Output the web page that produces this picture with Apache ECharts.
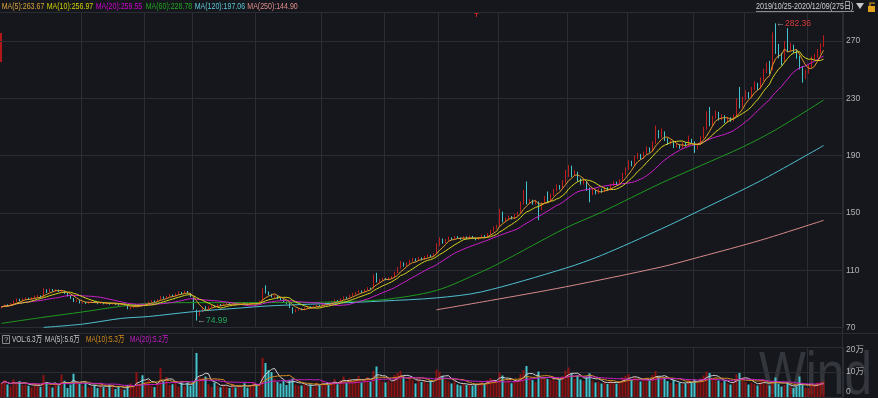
<!DOCTYPE html>
<html><head><meta charset="utf-8">
<script src="https://cdn.jsdelivr.net/npm/echarts@6/dist/echarts.min.js"></script>
<style>html,body{margin:0;padding:0;background:#15171c;}#c{width:878px;height:398px;}</style>
</head><body><div id="c"></div>
<script>
// [open, close, lowest, highest]
const candles = [
[83.9,84.5,83.5,85.0],[84.6,85.6,84.3,86.1],[85.7,85.2,84.7,86.3],[85.3,86.8,85.0,87.2],[86.6,88.4,86.2,89.0],
[88.3,89.6,87.9,90.4],[89.7,89.0,88.4,90.2],[89.1,89.8,88.7,90.5],[89.9,90.4,89.3,91.1],[90.5,89.9,89.4,90.9],
[89.8,90.8,89.5,91.3],[90.7,91.6,90.3,92.4],[91.5,92.0,91.0,92.8],[92.1,91.4,90.9,92.5],[91.5,95.8,91.2,97.6],
[95.9,95.0,94.2,96.8],[95.1,96.6,94.8,97.3],[96.7,95.8,95.2,97.0],[95.7,96.2,95.1,96.9],[96.3,95.4,94.9,96.6],
[95.3,95.9,94.8,96.4],[95.7,94.0,93.6,95.9],[93.9,92.2,91.8,94.2],[92.3,90.6,90.1,92.6],[90.5,88.5,87.9,90.8],
[88.4,89.0,87.8,89.6],[89.1,87.3,86.9,89.3],[87.2,87.6,86.8,88.1],[87.7,86.9,86.5,88.0],[86.9,87.8,86.6,88.2],
[87.7,88.3,87.4,88.8],[88.4,87.5,87.2,88.6],[87.4,86.8,86.4,87.7],[86.8,87.4,86.5,87.8],[87.5,86.6,86.3,87.6],
[86.6,87.2,86.3,87.6],[87.3,86.4,86.0,87.5],[86.4,87.0,86.1,87.4],[87.1,86.2,85.8,87.2],[86.2,85.8,85.4,86.6],
[85.8,86.5,85.5,86.9],[86.5,85.4,85.1,86.7],[85.3,83.4,82.9,85.5],[83.2,84.0,82.6,84.5],[83.9,84.8,83.6,85.2],
[84.7,85.6,84.3,86.2],[85.6,86.3,85.2,86.8],[86.4,86.0,85.6,86.9],[86.0,87.1,85.8,87.5],[87.2,87.8,86.9,88.3],
[87.9,88.6,87.5,89.2],[88.7,88.1,87.7,89.0],[88.1,89.5,87.9,90.0],[89.4,91.4,89.2,92.2],[91.5,90.6,90.2,91.8],
[90.7,91.8,90.4,92.3],[91.9,92.7,91.5,93.4],[92.8,92.0,91.6,93.1],[92.1,93.5,91.8,94.0],[93.6,94.6,93.2,95.4],
[94.7,93.8,93.4,95.0],[93.9,95.2,93.6,95.9],[95.3,94.1,93.7,95.6],[94.0,91.8,91.4,94.3],[90.5,83.0,82.6,91.0],
[82.0,79.5,74.99,82.6],[79.6,81.6,78.2,82.3],[81.5,83.8,80.9,84.5],[83.9,83.2,82.5,85.0],[83.1,84.6,82.8,85.1],
[84.7,85.3,84.2,85.9],[85.4,84.8,84.3,85.7],[84.8,86.1,84.5,86.6],[86.2,85.6,85.2,86.5],[85.6,86.4,85.3,86.9],
[86.5,87.0,86.1,87.5],[87.0,86.2,85.9,87.2],[86.2,86.8,85.9,87.2],[86.9,85.9,85.5,87.0],[85.9,86.5,85.6,86.9],
[86.6,87.2,86.2,87.6],[87.2,86.6,86.2,87.5],[86.6,85.9,85.5,86.8],[85.9,86.7,85.6,87.1],[86.8,87.4,86.4,87.9],
[87.5,87.0,86.6,87.8],[87.0,88.4,86.8,88.9],[88.5,96.8,88.2,97.5],[97.2,94.5,93.9,99.6],[94.4,93.2,92.6,95.3],
[93.1,91.6,91.1,93.6],[91.5,92.3,91.0,93.0],[92.3,90.4,90.0,92.6],[90.4,89.6,89.1,90.9],[89.6,88.1,87.6,89.9],
[88.0,87.0,86.5,88.3],[87.0,84.2,83.6,87.2],[84.0,81.5,79.8,84.3],[81.4,82.3,80.8,82.8],[82.3,83.1,81.9,83.6],
[83.2,82.6,82.1,83.5],[82.6,83.8,82.3,84.2],[83.8,84.5,83.4,85.0],[84.5,84.0,83.6,84.9],[84.0,84.9,83.7,85.3],
[84.9,85.6,84.6,86.1],[85.6,85.2,84.8,86.0],[85.2,86.4,85.0,86.9],[86.4,87.1,86.1,87.7],[87.2,86.7,86.3,87.5],
[86.7,88.0,86.5,88.6],[88.0,88.9,87.7,89.6],[89.0,88.4,88.0,89.3],[88.4,89.8,88.2,90.4],[89.8,91.0,89.5,91.8],
[91.1,90.6,90.1,91.6],[90.6,92.4,90.4,93.0],[92.4,93.5,92.0,94.2],[93.5,94.3,93.0,95.0],[94.3,95.4,93.9,96.2],
[95.5,94.9,94.3,96.0],[94.9,96.2,94.6,96.9],[96.2,97.5,95.9,98.3],[97.6,97.0,96.5,98.0],[97.2,106.5,97.0,107.2],
[106.8,102.0,101.5,108.3],[102.0,103.2,101.4,104.0],[103.2,104.1,102.7,104.9],[104.2,103.5,103.0,104.6],[103.5,104.6,103.2,105.2],
[104.6,105.3,104.1,106.0],[105.4,108.2,105.1,109.0],[108.3,111.5,108.0,112.4],[111.6,115.0,111.2,116.5],[115.1,113.2,112.6,115.6],
[113.2,114.6,112.8,115.4],[114.6,116.5,114.2,117.3],[116.6,117.8,116.1,118.7],[117.8,116.9,116.3,118.3],[116.9,118.6,116.6,119.4],
[118.7,117.5,117.0,119.0],[117.5,119.3,117.2,120.0],[119.3,120.4,118.9,121.2],[120.5,119.8,119.2,120.9],[119.8,121.2,119.5,121.9],
[121.5,127.0,121.2,129.0],[127.2,131.5,126.8,133.0],[131.6,129.3,128.6,132.2],[129.3,131.0,128.9,131.8],[131.0,132.4,130.6,133.5],
[132.5,131.8,131.2,133.0],[131.8,133.2,131.5,134.0],[133.3,132.6,132.0,133.9],[132.6,131.9,131.3,133.0],[131.9,133.0,131.6,133.8],
[133.1,132.2,131.7,133.6],[132.2,133.5,131.9,134.3],[133.6,132.4,131.9,134.0],[132.4,131.6,131.0,132.8],[131.6,132.8,131.3,133.4],
[132.8,134.1,132.5,134.9],[134.2,133.3,132.8,134.6],[133.3,135.2,133.0,136.0],[135.2,137.4,134.9,138.3],[137.4,139.5,137.0,140.6],
[139.6,140.6,139.0,141.8],[141.0,150.0,140.5,153.0],[149.5,144.5,143.5,151.0],[144.5,145.6,143.8,146.8],[145.6,147.2,145.0,148.3],
[147.3,146.1,145.5,147.9],[146.1,148.4,145.8,149.3],[148.5,149.6,147.9,150.8],[149.8,156.0,149.4,158.0],[156.2,163.0,155.8,166.0],
[166.0,157.0,156.0,172.0],[157.0,158.4,156.2,159.8],[158.4,156.5,155.8,159.3],[156.5,158.0,155.9,159.2],[157.0,152.0,145.0,158.0],
[152.5,156.8,152.0,157.6],[157.0,160.5,156.5,161.8],[163.0,158.5,157.0,165.0],[158.6,162.5,158.0,163.5],[162.6,165.8,162.0,167.0],
[165.8,168.4,165.2,170.0],[168.4,167.2,166.3,169.5],[167.4,171.5,167.0,173.0],[171.6,175.6,171.0,180.0],[175.8,179.8,175.2,183.5],
[181.0,176.5,175.0,183.0],[176.5,178.2,175.8,180.0],[178.0,173.0,172.2,178.8],[173.0,170.6,169.8,174.2],[170.6,172.0,169.9,173.5],
[171.8,166.3,165.5,172.3],[167.0,163.0,157.5,167.8],[163.2,165.5,162.5,166.8],[165.4,163.8,163.0,166.2],[163.8,166.2,163.2,167.2],
[166.2,164.9,164.2,167.0],[164.9,167.4,164.5,168.4],[167.4,166.2,165.5,168.0],[166.2,169.5,165.8,170.4],[169.5,171.0,168.8,172.2],
[171.0,170.1,169.3,171.9],[170.2,172.6,169.8,173.6],[172.8,176.8,172.4,178.0],[176.9,180.5,176.3,181.8],[180.6,185.2,180.0,186.8],
[185.3,183.6,182.6,186.5],[183.6,188.5,183.0,189.8],[188.6,190.4,187.6,192.0],[190.4,188.2,187.2,191.2],[188.2,191.5,187.8,192.8],
[191.6,194.8,191.0,196.4],[194.8,193.2,192.2,195.8],[193.3,198.6,192.8,200.0],[198.8,205.5,198.2,211.0],[205.6,203.2,202.0,207.8],
[203.2,206.4,202.5,209.0],[206.0,201.0,200.2,207.0],[201.0,198.5,197.6,202.2],[198.5,199.8,197.8,201.0],[199.8,196.2,195.3,200.4],
[196.2,197.5,195.6,198.6],[197.5,195.6,194.8,198.0],[195.6,198.4,195.0,199.4],[198.4,197.2,196.4,199.2],[197.3,200.8,196.8,204.0],
[200.8,199.5,198.6,201.8],[199.5,195.0,192.0,200.0],[195.0,197.8,194.4,198.6],[197.9,202.5,197.4,203.6],[202.6,208.8,202.0,210.2],
[208.9,214.2,208.2,221.0],[219.0,211.5,210.5,224.0],[211.6,216.4,210.8,217.8],[216.5,219.8,215.8,221.4],[219.8,215.6,214.6,220.6],
[215.6,217.5,214.8,218.8],[217.5,213.6,212.6,218.2],[213.6,215.8,213.0,217.0],[215.8,214.5,213.6,216.8],[214.6,217.4,214.0,218.6],
[217.6,226.8,217.2,230.0],[233.0,224.0,223.0,238.0],[224.2,229.5,223.6,231.2],[229.6,233.2,228.8,235.6],[233.2,231.0,229.8,234.4],
[231.0,236.4,230.4,238.0],[236.5,239.8,235.6,241.8],[239.8,237.2,235.8,240.8],[237.3,242.6,236.6,244.6],[242.7,248.5,242.0,250.6],
[248.6,252.4,247.6,255.0],[255.0,248.0,246.8,256.2],[250.0,274.0,249.5,276.0],[276.0,264.0,261.0,282.36],[266.0,260.5,258.0,268.0],
[260.5,255.6,253.0,261.8],[256.0,268.0,255.2,270.0],[270.0,264.0,262.5,279.0],[264.0,266.5,262.8,268.8],[266.5,263.2,261.6,267.4],
[263.2,259.0,257.6,264.0],[259.0,251.5,250.2,259.8],[251.5,244.5,241.0,252.4],[244.6,248.2,243.5,250.0],[248.3,252.0,247.2,253.6],
[252.0,258.0,251.2,259.4],[258.0,259.3,256.4,261.0],[259.4,262.0,258.2,264.4],[262.0,266.5,261.2,268.4],[266.6,272.0,265.8,274.0]
];

// volume, unit: 万
const volumes = [
5.5,6.8,5.0,4.2,7.0,5.2,6.4,4.8,5.0,4.5,
3.8,5.6,4.6,4.0,8.8,5.9,4.4,3.8,5.2,4.6,
9.0,6.5,3.6,5.0,9.3,6.0,5.4,4.6,5.8,3.9,
4.2,4.9,3.6,5.3,4.0,3.5,5.0,4.6,3.2,4.4,
3.4,2.9,4.8,5.5,4.2,10.0,5.2,8.7,6.0,6.8,
4.5,4.0,5.6,11.6,6.2,8.0,4.8,5.1,6.0,4.2,
5.9,4.4,5.8,4.5,6.2,17.6,8.0,7.6,8.2,5.1,
4.0,5.8,4.6,3.9,5.0,4.3,3.6,5.2,3.8,4.8,
4.1,5.5,3.7,4.6,6.0,4.9,5.2,15.7,13.6,10.7,
10.0,7.3,6.0,5.4,6.6,4.8,6.7,7.4,5.0,4.6,
4.6,5.2,4.4,5.0,4.1,5.8,4.7,6.4,5.3,4.9,
6.0,7.2,5.1,6.8,8.2,5.6,7.5,6.3,7.0,8.4,
5.8,7.3,8.0,6.1,10.5,12.2,7.4,6.2,5.8,6.6,
5.9,8.8,9.6,10.4,8.1,6.5,7.8,6.9,5.4,7.2,
6.0,6.8,5.5,6.4,5.7,11.0,10.2,8.4,6.9,6.2,
5.4,6.3,5.0,4.6,5.5,4.8,5.2,4.4,4.9,5.6,
6.2,5.1,6.8,7.6,7.0,6.5,9.8,8.6,6.0,6.8,
5.5,6.4,6.9,9.2,10.8,12.4,7.6,6.8,6.0,10.2,
7.4,8.0,7.2,6.8,7.6,6.5,7.0,8.4,10.6,11.8,
9.4,7.2,8.6,7.0,6.4,8.2,9.5,6.6,5.8,6.2,
5.4,6.0,5.2,6.6,5.8,5.3,6.4,7.8,8.5,9.2,
7.0,8.1,6.9,6.2,7.0,7.6,6.5,8.8,10.4,8.2,
7.5,7.8,6.4,5.6,6.8,5.2,5.8,5.0,5.4,7.2,
5.8,7.0,5.6,7.4,8.6,10.2,9.6,7.0,7.8,6.6,
5.8,6.4,5.5,5.0,6.2,9.0,9.6,7.6,6.0,5.0,
5.8,5.2,4.6,6.4,7.0,5.0,4.6,6.2,7.8,5.4,
4.2,4.8,5.6,4.0,3.6,4.2,8.2,4.8,3.8,3.6,
5.2,5.0,5.8,6.0,6.3
];

// long moving averages: [candle index, value]
const ma60Pts = [[0,73.0],[13,77.0],[27,81.0],[40,85.0],[50,87.0],[65,87.5],[80,87.5],[100,87.5],[110,88.0],[127,89.5],[145,96.0],[160,109.0],[166,115.0],[188,139.5],[200,150.6],[220,171.0],[233,183.0],[247,196.0],[258,208.0],[274,228.78]];
const ma120Pts = [[14,70.2],[27,72.5],[40,76.5],[49,77.8],[64,81.2],[80,83.8],[89,85.2],[110,87.0],[127,88.6],[145,90.8],[160,95.0],[188,111.5],[200,120.5],[220,139.0],[233,152.0],[253,172.5],[274,197.06]];
const ma250Pts = [[145,82.5],[163,89.0],[188,98.5],[220,112.4],[233,119.5],[253,131.0],[274,144.9]];

const priceTicks = [70,110,150,190,230,270];
const volTicks = [0,10,20];
const monthStarts = [27,48,64,85,107,128,146,166,189,209,231,248,269];
const legendNames = ['MA(5)','MA(10)','MA(20)','MA(60)','MA(120)','MA(250)'];
const legendValues = ['263.67','256.97','259.55','228.78','197.06','144.90'];
const volLegendNames = ['VOL','MA(5)','MA(10)','MA(20)'];
const volLegendValues = ['6.3万','5.6万','5.3万','5.2万'];
const rangeText = '2019/10/25-2020/12/09(275日)';

// ---------- build ----------
const SLOTS = 281;
const cats = Array.from({length: SLOTS}, (_, i) => String(i));
const closes = candles.map(c => c[1]);
function movingAvg(arr, n) {
  return arr.map((_, i) => {
    const s = Math.max(0, i - n + 1); let sum = 0;
    for (let k = s; k <= i; k++) sum += arr[k];
    return +(sum / (i - s + 1)).toFixed(3);
  });
}
const GRID = '#2a2d33';
const UP_FILL = '#9a1414', UP_LINE = '#c01c1c', DOWN = '#44c4cc';
const VOL_UP = '#8e1212';
const maColors = ['#e09a2c','#d6d61e','#d01ed0','#1f9a1f','#4fbfcf','#d68a8a'];
const legColors = ['#d9a23c','#d2d200','#d000d0','#20a820','#5cc8d8','#e08c8c'];
const volLegColors = ['#c8c8c8','#c8c8c8','#d68c1c','#c81ec8'];
const volMaColors = ['#d0d0d0','#d68c1c','#c81ec8'];
const FONT = '"Liberation Sans", Arial, "Noto Sans CJK SC", sans-serif';

const chart = echarts.init(document.getElementById('c'));

const lineBase = (name, data, color, x, y, extra) => Object.assign({
  name, type: 'line', data, xAxisIndex: x, yAxisIndex: y, symbol: 'none', silent: true,
  lineStyle: {color, width: 1}, itemStyle: {color}, z: 3
}, extra || {});

const graphic = [];
// separators
graphic.push({type:'line', shape:{x1:0,y1:333.5,x2:878,y2:333.5}, style:{stroke:GRID,lineWidth:1}, silent:true});
graphic.push({type:'line', shape:{x1:842.5,y1:0,x2:842.5,y2:398}, style:{stroke:GRID,lineWidth:1}, silent:true});
// watermark
graphic.push({type:'text', x: 759, y: 346, scaleX: 0.8, silent:true, z: -1,
  style:{text:'Wind', fill:'rgba(150,155,165,0.24)', fontSize: 62, fontFamily: FONT, verticalAlign:'top'}});
// legends
const legX = [1.7, 46.7, 95.7, 145.7, 194.7, 247.3];
legendNames.forEach((n, i) => graphic.push({type:'text', x: legX[i], y: 6, scaleX: 0.74, silent:true,
  style:{text: n + ':' + legendValues[i], fill: legColors[i], fontSize: 9.5, fontFamily: FONT, verticalAlign:'middle'}}));
const vlegX = [12, 45, 86, 130];
volLegendNames.forEach((n, i) => graphic.push({type:'text', x: vlegX[i], y: 339.5, scaleX: 0.68, silent:true,
  style:{text: n + ':' + volLegendValues[i], fill: volLegColors[i], fontSize: 9.5, fontFamily: FONT, verticalAlign:'middle'}}));
// "?" box
graphic.push({type:'rect', shape:{x:2.5,y:335.5,width:7,height:8}, style:{fill:'none', stroke:'#8a8a8a', lineWidth:1}, silent:true});
graphic.push({type:'text', x:4, y:339.8, silent:true, style:{text:'?', fill:'#b0b0b0', fontSize:8, fontFamily:FONT, verticalAlign:'middle'}});
// range text top-right
graphic.push({type:'text', x: 756, y: 6, scaleX: 0.75, silent:true,
  style:{text: rangeText, fill:'#cfcfcf', fontSize: 9.5, fontFamily: FONT, verticalAlign:'middle'}});
graphic.push({type:'line', shape:{x1:756,y1:11.5,x2:854,y2:11.5}, style:{stroke:'#8c8c8c',lineWidth:1}, silent:true});
graphic.push({type:'polygon', shape:{points:[[856,3],[864,3],[860,9]]}, style:{fill:'#c8c8c8'}, silent:true});
// lock icon
graphic.push({type:'rect', shape:{x:868,y:6,width:7,height:6}, style:{fill:'#e0a020'}, silent:true});
graphic.push({type:'polyline', shape:{points:[[870,6],[870,3],[874,3],[874,4]]}, style:{stroke:'#e0a020', fill:'none', lineWidth:1.2}, silent:true});
// small markers
graphic.push({type:'rect', shape:{x:0,y:33,width:2,height:29}, style:{fill:'#b01818'}, silent:true});
graphic.push({type:'polyline', shape:{points:[[474.5,13.5],[478.5,13.5]]}, style:{stroke:'#c02020', lineWidth:1}, silent:true});
graphic.push({type:'polyline', shape:{points:[[476.5,13],[476.5,17]]}, style:{stroke:'#c02020', lineWidth:1}, silent:true});

const option = {
  backgroundColor: '#15171c',
  animation: false,
  grid: [
    {left: 0, right: 35, top: 12.35, height: 315.35},
    {left: 0, right: 35, top: 347, height: 50}
  ],
  xAxis: [0, 1].map(g => ({
    type: 'category', gridIndex: g, data: cats, boundaryGap: true,
    axisLine: {show: false}, axisTick: {show: false}, axisLabel: {show: false},
    splitLine: {show: true, interval: (idx) => monthStarts.includes(idx), lineStyle: {color: GRID, width: 1}}
  })),
  yAxis: [
    {type: 'value', gridIndex: 0, position: 'right', min: priceTicks[0], max: 290, interval: 40,
      axisLine: {show: false}, axisTick: {show: false},
      axisLabel: {color: '#b4b4b4', fontSize: 8.5, margin: 3, showMaxLabel: false,
        fontFamily: '"Liberation Sans Narrow", "Liberation Sans", Arial, sans-serif',
        formatter: v => priceTicks.includes(v) ? String(v) : ''},
      splitLine: {lineStyle: {color: GRID, width: 1}}},
    {type: 'value', gridIndex: 1, position: 'right', min: volTicks[0], max: volTicks[2], interval: volTicks[1] - volTicks[0],
      axisLine: {show: false}, axisTick: {show: false},
      axisLabel: {color: '#b4b4b4', fontSize: 8.5, margin: 3,
        fontFamily: '"Liberation Sans Narrow", "Liberation Sans", Arial, "Noto Sans CJK SC", sans-serif',
        formatter: v => v === volTicks[0] ? '{b|0}' : (v === volTicks[2] ? '{t|' + v + '万}' : '{m|' + v + '万}'),
        rich: {b: {padding: [0,0,11,0]}, t: {padding: [6,0,0,0]}, m: {padding: [0,0,1,0]}}},
      splitLine: {lineStyle: {color: GRID, width: 1}}}
  ],
  graphic: graphic,
  series: [
    {
      name: 'K', type: 'candlestick', data: candles, xAxisIndex: 0, yAxisIndex: 0, barWidth: 1, z: 2,
      itemStyle: {color: UP_FILL, color0: DOWN, borderColor: UP_LINE, borderColor0: DOWN, borderWidth: 1},
      markPoint: {
        symbol: 'circle', symbolSize: 1, itemStyle: {color: 'rgba(0,0,0,0)'}, silent: true,
        data: [
          {type: 'max', valueDim: 'highest', label: {show: true, position: 'right', distance: 0,
            formatter: p => '{g|←}{r|' + Number(p.value).toFixed(2) + '}',
            rich: {g: {color: '#a0a0a0', fontSize: 9, fontFamily: FONT}, r: {color: '#d83a3a', fontSize: 8.5, fontFamily: '"Liberation Sans Narrow", "Liberation Sans", sans-serif'}}}},
          {type: 'min', valueDim: 'lowest', label: {show: true, position: 'right', distance: 0,
            formatter: p => '{g|←}{n|' + Number(p.value).toFixed(2) + '}',
            rich: {g: {color: '#a0a0a0', fontSize: 9, fontFamily: FONT}, n: {color: '#26a85a', fontSize: 8.5, fontFamily: '"Liberation Sans Narrow", "Liberation Sans", sans-serif'}}}}
        ]
      }
    },
    lineBase('MA250', ma250Pts, maColors[5], 0, 0, {smooth: 0.3}),
    lineBase('MA120', ma120Pts, maColors[4], 0, 0, {smooth: 0.3}),
    lineBase('MA60', ma60Pts, maColors[3], 0, 0, {smooth: 0.3}),
    lineBase('MA20', movingAvg(closes, 20), maColors[2], 0, 0),
    lineBase('MA10', movingAvg(closes, 10), maColors[1], 0, 0),
    lineBase('MA5', movingAvg(closes, 5), maColors[0], 0, 0),
    {
      name: 'VOL', type: 'bar', data: volumes, xAxisIndex: 1, yAxisIndex: 1, barWidth: 2, silent: true,
      itemStyle: {color: p => candles[p.dataIndex][1] >= candles[p.dataIndex][0] ? VOL_UP : DOWN}
    },
    lineBase('VMA5', movingAvg(volumes, 5), volMaColors[0], 1, 1),
    lineBase('VMA10', movingAvg(volumes, 10), volMaColors[1], 1, 1),
    lineBase('VMA20', movingAvg(volumes, 20), volMaColors[2], 1, 1)
  ]
};
chart.setOption(option);
</script>
</body></html>
